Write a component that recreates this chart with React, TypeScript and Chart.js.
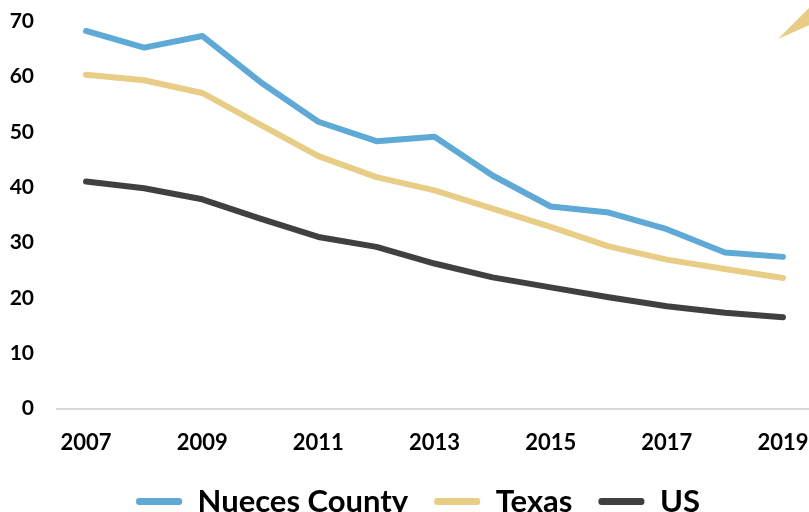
import { useEffect, useRef } from "react";
import { Chart, registerables } from "chart.js";

Chart.register(...registerables);

const years = ["2007", "2008", "2009", "2010", "2011", "2012", "2013", "2014", "2015", "2016", "2017", "2018", "2019"];
const nuecesCounty = [68.2, 65.2, 67.3, 59.0, 51.8, 48.3, 49.1, 42.1, 36.5, 35.4, 32.4, 28.2, 27.4];
const texas = [60.3, 59.3, 57.0, 51.3, 45.6, 41.8, 39.4, 36.1, 32.8, 29.3, 26.9, 25.2, 23.6];
const us = [41.0, 39.8, 37.8, 34.3, 31.0, 29.2, 26.2, 23.7, 21.9, 20.1, 18.5, 17.3, 16.5];
const seriesLabels = ["Nueces County", "Texas", "US"];
const seriesColors = ["#5ea9d6", "#e8cd86", "#404040"];
const yMin = 0;
const yMax = 70;
const yStep = 10;

const W = 812;
const H = 544;

const cornerShape = {
  id: "cornerShape",
  afterLayout(chart: any) {
    const lg = chart.legend;
    if (lg) {
      lg.left += 24;
      lg.top -= 17;
    }
  },
  afterDraw(chart: any) {
    const ctx = chart.ctx;
    ctx.save();
    ctx.fillStyle = "#e8cd86";
    ctx.beginPath();
    ctx.moveTo(778, 39);
    ctx.lineTo(812, 5);
    ctx.lineTo(812, 24);
    ctx.closePath();
    ctx.fill();
    ctx.restore();
  },
};

export default function App() {
  const ref = useRef<HTMLCanvasElement | null>(null);
  useEffect(() => {
    const canvas = ref.current;
    if (!canvas) return;
    const data = [nuecesCounty, texas, us];
    const chart = new Chart(canvas, {
      type: "line",
      data: {
        labels: years,
        datasets: seriesLabels.map((label, i) => ({
          label,
          data: data[i],
          borderColor: seriesColors[i],
          backgroundColor: seriesColors[i],
          borderWidth: 6,
          pointRadius: 0,
          tension: 0,
          borderCapStyle: "round" as const,
          borderJoinStyle: "round" as const,
        })),
      },
      options: {
        responsive: false,
        animation: false,
        devicePixelRatio: 1,
        layout: { padding: { left: 0, right: 0, top: 21, bottom: 0 } },
        plugins: {
          tooltip: { enabled: false },
          legend: {
            position: "bottom",
            labels: {
              font: { family: "Lato", weight: "bold", size: 31 },
              color: "#000000",
              boxWidth: 46,
              boxHeight: 7,
              padding: 26,
              generateLabels: (c: any) =>
                c.data.datasets.map((ds: any, i: number) => ({
                  text: ds.label,
                  fillStyle: ds.borderColor,
                  strokeStyle: ds.borderColor,
                  lineWidth: 0,
                  borderRadius: 3,
                  hidden: false,
                  datasetIndex: i,
                  fontColor: "#000000",
                })),
            },
          },
        },
        scales: {
          x: {
            offset: true,
            grid: { display: false, drawTicks: false },
            border: { display: true, color: "#d9d9d9", width: 2 },
            ticks: {
              autoSkip: false,
              maxRotation: 0,
              padding: 21,
              color: "#000000",
              font: { family: "Lato", weight: "bold", size: 22 },
              callback: (_v: any, i: number) => (i % 2 === 0 ? years[i] : ""),
            },
            afterFit: (scale: any) => {
              scale.paddingLeft = 0;
              scale.paddingRight = 0;
            },
          },
          y: {
            min: yMin,
            max: yMax,
            grid: { display: false, drawTicks: false },
            border: { display: false },
            ticks: {
              stepSize: yStep,
              padding: 23,
              color: "#000000",
              font: { family: "Lato", weight: "bold", size: 21 },
            },
            afterFit: (scale: any) => {
              scale.width = 57;
              scale.paddingTop = 0;
              scale.paddingBottom = 0;
            },
          },
        },
      },
      plugins: [cornerShape],
    });
    return () => chart.destroy();
  }, []);
  return (
    <div style={{ position: "fixed", left: 0, top: 0, width: 809, height: 512, overflow: "hidden", background: "#fff" }}>
      <canvas ref={ref} width={W} height={H} style={{ width: W, height: H, display: "block" }} />
    </div>
  );
}
